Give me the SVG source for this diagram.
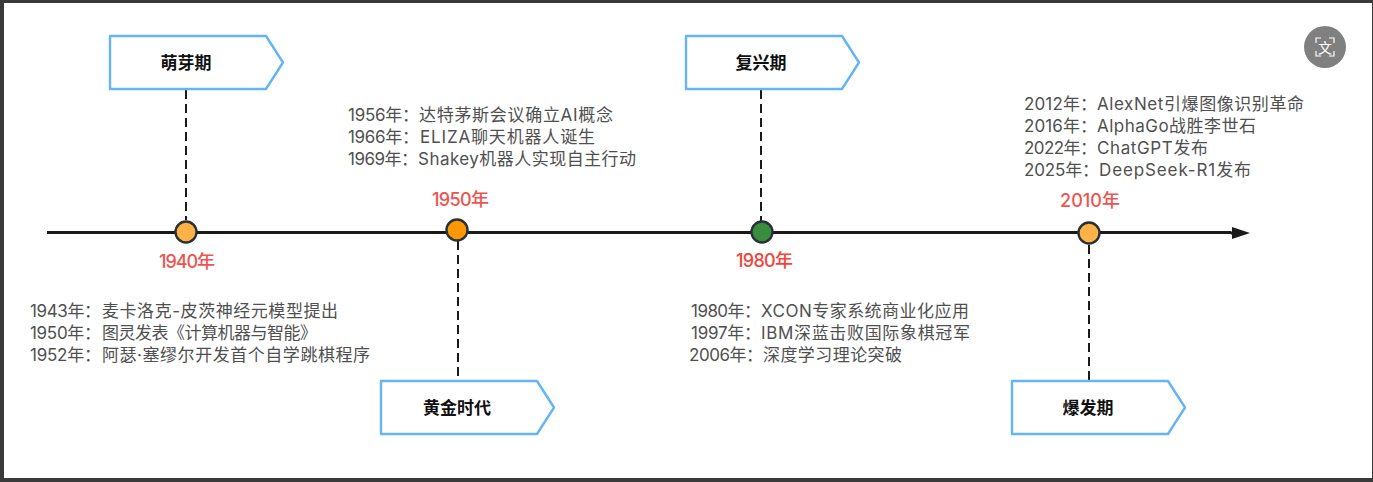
<svg xmlns="http://www.w3.org/2000/svg" width="1373" height="482" viewBox="0 0 1373 482">
<style>
text{font-family:"Inter","Noto Sans CJK SC",sans-serif}
.tag{fill:#fff;stroke:#64b5f6;stroke-width:2.400;stroke-linejoin:round}
.tl{font-family:"Noto Sans CJK SC",sans-serif;font-size:17px;font-weight:700;fill:#111;text-anchor:middle}
.yr{font-size:18px;font-weight:500;fill:#ef5350}
.d{font-size:17px;fill:#505050}
.dash{stroke:#1a1a1a;stroke-width:2;stroke-dasharray:9 5;fill:none}
.dot{stroke:#263238;stroke-width:2.400}
</style>
<defs><marker id="ah" markerUnits="userSpaceOnUse" markerWidth="18" markerHeight="12" refX="0" refY="6" orient="auto"><path d="M0 0L18 6L0 12Z" fill="#1a1a1a"/></marker></defs>
<rect width="1373" height="482" fill="#3a3a3a"/>
<rect x="4" y="3" width="1368" height="475" fill="#fff"/>
<g id="connectors">
<path d="M47 232.500H1231" stroke="#1a1a1a" stroke-width="3.200" fill="none"/>
<path d="M1231 233H1232" stroke="#1a1a1a" stroke-width="3" fill="none" marker-end="url(#ah)"/>
<path class="dash" d="M186 90V220"/>
<path class="dash" d="M458 241V376"/>
<path class="dash" d="M761 90V222"/>
<path class="dash" d="M1089 245V380"/>
</g>
<g id="node-1940"><path class="tag" d="M110 36H266L283 62.500L266 89H110Z"/><text class="tl" x="186" y="68.500">萌芽期</text><circle class="dot" cx="186" cy="232" r="10.500" fill="#ffb347"/><text class="yr" x="159" y="268" textLength="56">1940年</text>
<text class="d" y="317"><tspan x="30" textLength="71">1943年：</tspan><tspan x="102" textLength="236">麦卡洛克-皮茨神经元模型提出</tspan></text>
<text class="d" y="339"><tspan x="30" textLength="71">1950年：</tspan><tspan x="102" textLength="215">图灵发表《计算机器与智能》</tspan></text>
<text class="d" y="361"><tspan x="30" textLength="71">1952年：</tspan><tspan x="102" textLength="268">阿瑟·塞缪尔开发首个自学跳棋程序</tspan></text></g>
<g id="node-1950"><path class="tag" d="M381 381H537L554 407.500L537 434H381Z"/><text class="tl" x="457" y="413.500">黄金时代</text><circle class="dot" cx="457" cy="230" r="10.500" fill="#ff9800"/><text class="yr" x="432" y="206" textLength="57">1950年</text>
<text class="d" y="121"><tspan x="348" textLength="71">1956年：</tspan><tspan x="419" textLength="194">达特茅斯会议确立AI概念</tspan></text>
<text class="d" y="143"><tspan x="348" textLength="71">1966年：</tspan><tspan x="420" textLength="175">ELIZA聊天机器人诞生</tspan></text>
<text class="d" y="165"><tspan x="348" textLength="70">1969年：</tspan><tspan x="418" textLength="218">Shakey机器人实现自主行动</tspan></text></g>
<g id="node-1980"><path class="tag" d="M686 36H842L859 62.500L842 89H686Z"/><text class="tl" x="761" y="68.500">复兴期</text><circle class="dot" cx="762" cy="232" r="10.500" fill="#388e3c"/><text class="yr" x="736" y="267" textLength="57" style="fill:#f44336">1980年</text>
<text class="d" y="317"><tspan x="691" textLength="70">1980年：</tspan><tspan x="761" textLength="208">XCON专家系统商业化应用</tspan></text>
<text class="d" y="339"><tspan x="691" textLength="70">1997年：</tspan><tspan x="761" textLength="209">IBM深蓝击败国际象棋冠军</tspan></text>
<text class="d" y="361"><tspan x="689" textLength="74">2006年：</tspan><tspan x="763" textLength="139">深度学习理论突破</tspan></text></g>
<g id="node-2010"><path class="tag" d="M1012 381H1168L1185 407.500L1168 434H1012Z"/><text class="tl" x="1088" y="413.500">爆发期</text><circle class="dot" cx="1089" cy="233" r="10.500" fill="#ffb347"/><text class="yr" x="1060" y="207" textLength="60">2010年</text>
<text class="d" y="110"><tspan x="1024" textLength="73">2012年：</tspan><tspan x="1097" textLength="207">AlexNet引爆图像识别革命</tspan></text>
<text class="d" y="132"><tspan x="1024" textLength="73">2016年：</tspan><tspan x="1097" textLength="159">AlphaGo战胜李世石</tspan></text>
<text class="d" y="154"><tspan x="1024" textLength="73">2022年：</tspan><tspan x="1097" textLength="111">ChatGPT发布</tspan></text>
<text class="d" y="176"><tspan x="1024" textLength="75">2025年：</tspan><tspan x="1099" textLength="152">DeepSeek-R1发布</tspan></text></g>
<g id="translate-button"><circle cx="1325" cy="47" r="21" fill="#808080"/><path d="M1316 43V38H1321M1329 38H1334V43M1334 51V56H1329M1321 56H1316V51" stroke="#fff" stroke-width="1.200" fill="none"/><text x="1325" y="52.500" font-size="14" fill="#fff" text-anchor="middle" font-family="Noto Sans CJK SC">文</text></g>
</svg>
